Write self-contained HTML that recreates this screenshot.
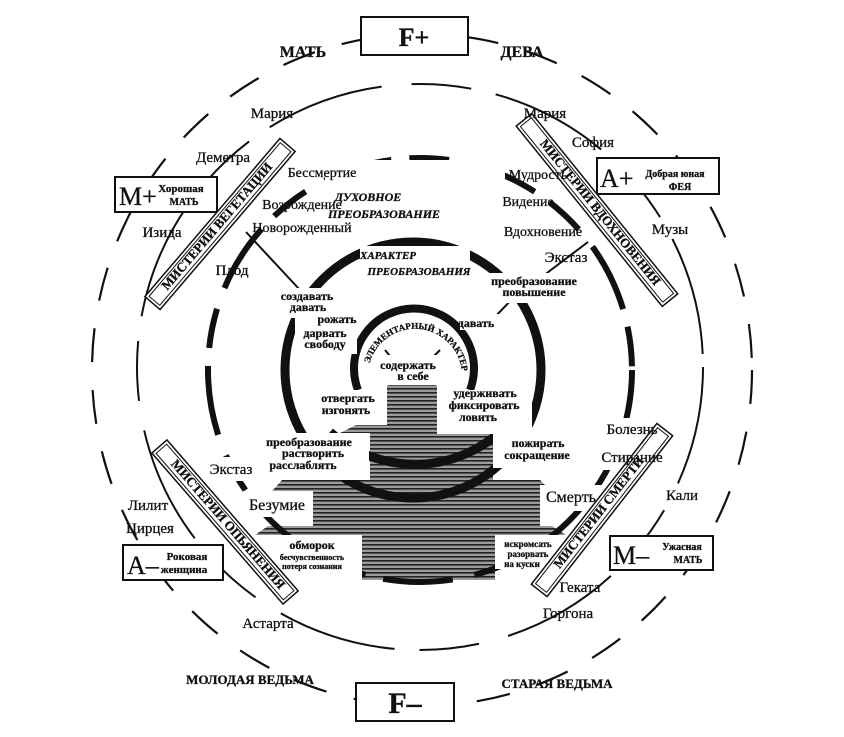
<!DOCTYPE html>
<html><head><meta charset="utf-8"><style>
html,body{margin:0;padding:0;background:#fff;}
svg{display:block;}
text{font-family:"Liberation Serif","DejaVu Serif",serif;fill:#111;stroke:#111;stroke-width:0.3;}
.b{font-weight:bold;}
.i{font-style:italic;font-weight:bold;}
</style></head><body>
<svg width="844" height="737" viewBox="0 0 844 737" xmlns="http://www.w3.org/2000/svg">
<defs>
<pattern id="h" width="6" height="4" patternUnits="userSpaceOnUse">
<rect width="6" height="4" fill="#9a9a9a"/>
<rect width="6" height="1.6" fill="#222"/>
</pattern>
<path id="ip" d="M 368 372 A 46 46 0 0 1 462 380"/>
</defs>

<ellipse cx="422" cy="370" rx="330" ry="336" fill="none" stroke="#111" stroke-width="2.2" stroke-dasharray="34 28"/>
<circle cx="420" cy="367" r="283" fill="none" stroke="#111" stroke-width="2" stroke-dasharray="120 30 60 25"/>

<g fill="url(#h)">
<polygon points="387,386 393,381 431,381 437,386 437,430 387,430"/>
<polygon points="340,433 356,425 487,425 497,433"/>
<rect x="370" y="432" width="123" height="48"/>
<polygon points="264,500 282,480 540,480 560,500"/>
<rect x="313" y="490" width="227" height="40"/>
<polygon points="255,535 268,526 552,526 566,535"/>
<rect x="362" y="534" width="133" height="46"/>
</g>

<circle cx="420" cy="370" r="212" fill="none" stroke="#111" stroke-width="6" stroke-dasharray="70 18 40 22"/>
<circle cx="413" cy="370" r="128" fill="none" stroke="#111" stroke-width="9"/>
<path d="M 358 390 A 60 60 0 1 1 470 390" fill="none" stroke="#111" stroke-width="8"/>
<path d="M 330 432 A 128 128 0 0 0 500 432" fill="none" stroke="#111" stroke-width="9"/>

<g stroke="#111" stroke-width="2">
<line x1="246" y1="232" x2="300" y2="290"/>
<line x1="588" y1="242" x2="535" y2="282"/>
<line x1="515" y1="296" x2="492" y2="320"/>
<line x1="385" y1="350" x2="395" y2="362"/>
<line x1="440" y1="350" x2="428" y2="362"/>
</g>

<g fill="#fff">
<rect x="325" y="160" width="180" height="70"/>
<rect x="360" y="246" width="110" height="32"/>
<rect x="265" y="288" width="80" height="30"/>
<rect x="478" y="273" width="112" height="30"/>
<rect x="295" y="312" width="62" height="42"/>
<rect x="460" y="314" width="50" height="16"/>
<rect x="370" y="355" width="80" height="30"/>
<rect x="310" y="390" width="76" height="32"/>
<rect x="437" y="390" width="95" height="44"/>
<rect x="257" y="433" width="112" height="47"/>
<rect x="493" y="433" width="90" height="35"/>
<rect x="243" y="491" width="70" height="26"/>
<rect x="540" y="485" width="62" height="26"/>
<rect x="273" y="535" width="89" height="44"/>
<rect x="495" y="535" width="68" height="34"/>
<rect x="205" y="457" width="50" height="24"/>
<rect x="600" y="418" width="62" height="52"/>
</g>

<g fill="#fff" stroke="#111" stroke-width="2">
<rect x="361" y="17" width="107" height="38"/>
<rect x="356" y="683" width="98" height="38"/>
<rect x="115" y="177" width="102" height="35"/>
<rect x="597" y="158" width="122" height="36"/>
<rect x="123" y="545" width="100" height="35"/>
<rect x="610" y="536" width="103" height="34"/>
</g>
<text x="414" y="46" font-size="26" class="b" text-anchor="middle">F+</text>
<text x="405" y="713" font-size="30" class="b" text-anchor="middle">F–</text>
<text x="119" y="205" font-size="26">M+</text>
<text x="181" y="192" font-size="11" class="b" text-anchor="middle">Хорошая</text>
<text x="184" y="205" font-size="10" class="b" text-anchor="middle">МАТЬ</text>
<text x="600" y="187" font-size="26">A+</text>
<text x="675" y="177" font-size="10" class="b" text-anchor="middle">Добрая юная</text>
<text x="680" y="190" font-size="10" class="b" text-anchor="middle">ФЕЯ</text>
<text x="127" y="574" font-size="26">A–</text>
<text x="187" y="560" font-size="11" class="b" text-anchor="middle">Роковая</text>
<text x="184" y="573" font-size="11" class="b" text-anchor="middle">женщина</text>
<text x="613" y="564" font-size="26">M–</text>
<text x="682" y="550" font-size="10" class="b" text-anchor="middle">Ужасная</text>
<text x="688" y="563" font-size="10" class="b" text-anchor="middle">МАТЬ</text>

<g fill="#fff" stroke="#111" stroke-width="1.5">
<g transform="translate(220,224) rotate(-49.5)"><rect x="-104" y="-10" width="208" height="20"/><rect x="-101" y="-7" width="202" height="14" stroke-width="1"/></g>
<g transform="translate(597,210) rotate(51)"><rect x="-116" y="-10" width="232" height="20"/><rect x="-113" y="-7" width="226" height="14" stroke-width="1"/></g>
<g transform="translate(225,522) rotate(49)"><rect x="-100" y="-10" width="200" height="20"/><rect x="-97" y="-7" width="194" height="14" stroke-width="1"/></g>
<g transform="translate(602,510) rotate(-52)"><rect x="-102" y="-10" width="204" height="20"/><rect x="-99" y="-7" width="198" height="14" stroke-width="1"/></g>
</g>
<g font-size="13" class="b" text-anchor="middle">
<text transform="translate(220,229) rotate(-49.5)">МИСТЕРИИ ВЕГЕТАЦИИ</text>
<text transform="translate(597,215) rotate(51)">МИСТЕРИИ ВДОХНОВЕНИЯ</text>
<text transform="translate(225,527) rotate(49)">МИСТЕРИИ ОПЬЯНЕНИЯ</text>
<text transform="translate(602,515) rotate(-52)">МИСТЕРИИ СМЕРТИ</text>
</g>

<g font-size="16" class="b" text-anchor="middle">
<text x="303" y="57">МАТЬ</text>
<text x="522" y="57">ДЕВА</text>
</g>
<g font-size="13" class="b" text-anchor="middle">
<text x="250" y="684">МОЛОДАЯ ВЕДЬМА</text>
<text x="557" y="688">СТАРАЯ ВЕДЬМА</text>
</g>
<g font-size="15" text-anchor="middle">
<text x="272" y="118">Мария</text>
<text x="545" y="118">Мария</text>
<text x="223" y="162">Деметра</text>
<text x="593" y="147">София</text>
<text x="162" y="237">Изида</text>
<text x="670" y="234">Музы</text>
<text x="232" y="275">Плод</text>
<text x="566" y="262">Экстаз</text>
<text x="632" y="434">Болезнь</text>
<text x="632" y="462">Стирание</text>
<text x="682" y="500">Кали</text>
<text x="231" y="474">Экстаз</text>
<text x="148" y="510">Лилит</text>
<text x="150" y="533">Цирцея</text>
<text x="268" y="628">Астарта</text>
<text x="580" y="592">Геката</text>
<text x="568" y="618">Горгона</text>
<text x="277" y="510" font-size="16">Безумие</text>
<text x="571" y="502" font-size="16">Смерть</text>
</g>
<g font-size="14" text-anchor="middle">
<text x="322" y="177">Бессмертие</text>
<text x="538" y="179">Мудрость</text>
<text x="302" y="209">Возрождение</text>
<text x="528" y="206">Видение</text>
<text x="302" y="232">Новорожденный</text>
<text x="543" y="236">Вдохновение</text>
</g>
<g font-size="12" class="i" text-anchor="middle">
<text x="368" y="201">ДУХОВНОЕ</text>
<text x="384" y="218">ПРЕОБРАЗОВАНИЕ</text>
<text x="388" y="259" font-size="11">ХАРАКТЕР</text>
<text x="419" y="275" font-size="11">ПРЕОБРАЗОВАНИЯ</text>
</g>
<g font-size="12" class="b" text-anchor="middle">
<text x="307" y="300">создавать</text>
<text x="308" y="311">давать</text>
<text x="534" y="285">преобразование</text>
<text x="534" y="296">повышение</text>
<text x="337" y="323">рожать</text>
<text x="476" y="327">давать</text>
<text x="325" y="337">дарвать</text>
<text x="325" y="348">свободу</text>
<text x="408" y="369">содержать</text>
<text x="413" y="380">в себе</text>
<text x="348" y="402">отвергать</text>
<text x="346" y="414">изгонять</text>
<text x="485" y="397">удерживать</text>
<text x="484" y="409">фиксировать</text>
<text x="478" y="421">ловить</text>
<text x="309" y="446">преобразование</text>
<text x="313" y="457">растворить</text>
<text x="303" y="469">расслаблять</text>
<text x="538" y="447">пожирать</text>
<text x="537" y="459">сокращение</text>
<text x="312" y="549">обморок</text>
<text x="312" y="560" font-size="8">бесчувственность</text>
<text x="312" y="569" font-size="8">потеря сознания</text>
<text x="528" y="547" font-size="9">искромсать</text>
<text x="528" y="557" font-size="9">разорвать</text>
<text x="522" y="567" font-size="9">на куски</text>
</g>
<text font-size="9" class="b"><textPath href="#ip" startOffset="50%" text-anchor="middle">ЭЛЕМЕНТАРНЫЙ ХАРАКТЕР</textPath></text>
</svg>
</body></html>
